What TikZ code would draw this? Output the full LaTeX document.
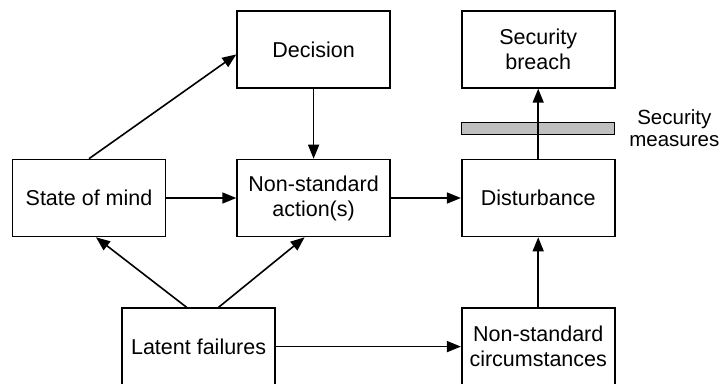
\documentclass[tikz,border=0pt]{standalone}
\usepackage{fontspec}
\setmainfont{Liberation Sans}
\usetikzlibrary{arrows.meta,positioning}

\begin{document}
\begin{tikzpicture}[x=1pt,y=-1pt,node distance=70pt,>={Triangle[length=14pt,width=11pt]},
  every node/.style={font=\fontsize{21.5}{25}\selectfont},
  box/.style={draw,line width=1.6pt,minimum width=153pt,minimum height=77pt,align=center,inner sep=0pt},
  link/.style={->,line width=1.6pt}]
\useasboundingbox (0,0) rectangle (720,383);
\node[box] (mind) at (89,198) {State of mind};
\node[box,right=of mind] (action) {Non-standard\\action(s)};
\node[box,above=of action] (decision) {Decision};
\node[box,right=of action] (dist) {Disturbance};
\node[box,above=of dist] (breach) {Security\\breach};
\node[box,below=of dist] (circ) {Non-standard\\circumstances};
\node[box,left=185pt of circ] (latent) {Latent failures};
% security measures bar
\node[draw,line width=0.8pt,fill=black!25,minimum width=153pt,minimum height=12pt,inner sep=0pt,below=33pt of breach] (bar) {};
\node[right=14pt of bar,align=center,inner sep=0pt,font=\fontsize{20.5}{22}\selectfont] (measures) {Security\\measures};
\draw[link] (mind.north) -- ([yshift=-5pt]decision.west); \draw[link] (decision) -- (action); \draw[link] (mind) -- (action); \draw[link] (action) -- (dist); \draw[link] (dist) -- (breach);
\draw[link] ([xshift=-12pt]latent.north) -- ([xshift=7pt]mind.south); \draw[link] ([xshift=20pt]latent.north) -- ([xshift=-9pt]action.south); \draw[link] (latent) -- (circ); \draw[link] (circ) -- (dist);
\end{tikzpicture}
\end{document}
